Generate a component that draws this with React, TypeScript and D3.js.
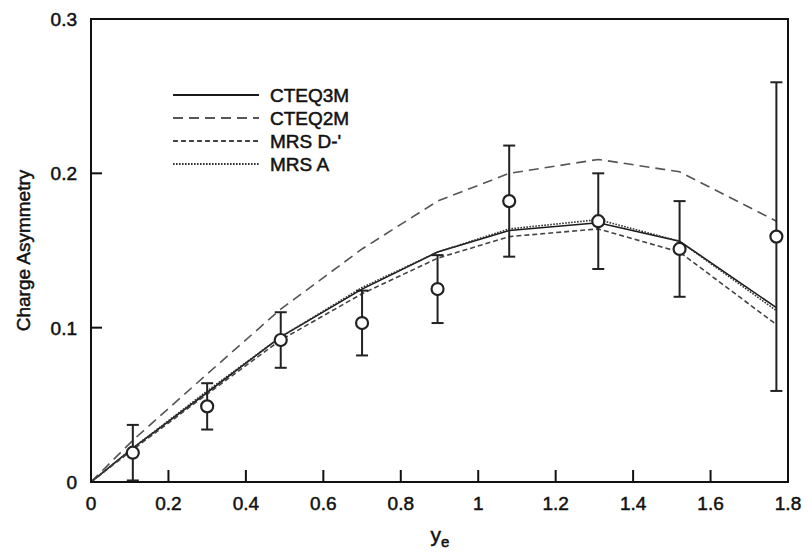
import React from "react";
import * as d3 from "d3";

const dataX = [0.108, 0.3, 0.49, 0.7, 0.895, 1.08, 1.31, 1.52, 1.77];
const dataY = [0.019, 0.049, 0.092, 0.103, 0.125, 0.182, 0.169, 0.151, 0.159];
const dataErr = [0.018, 0.015, 0.018, 0.021, 0.022, 0.036, 0.031, 0.031, 0.1];

const curveX = [0, 0.108, 0.3, 0.49, 0.7, 0.895, 1.08, 1.31, 1.52, 1.77];
const cteq3m = [0, 0.022, 0.058, 0.094, 0.125, 0.149, 0.163, 0.168, 0.156, 0.113];
const cteq2m = [0, 0.027, 0.07, 0.112, 0.151, 0.182, 0.2, 0.209, 0.201, 0.169];
const mrsD = [0, 0.021, 0.057, 0.092, 0.122, 0.145, 0.159, 0.164, 0.149, 0.102];
const mrsA = [0, 0.022, 0.059, 0.094, 0.126, 0.149, 0.164, 0.17, 0.156, 0.111];

const xTicks = [0, 0.2, 0.4, 0.6, 0.8, 1, 1.2, 1.4, 1.6, 1.8];
const yTicks = [0, 0.1, 0.2, 0.3];

const series = [
  { name: "CTEQ3M", values: cteq3m, dash: "", color: "#1a1a1a", width: 1.6 },
  { name: "CTEQ2M", values: cteq2m, dash: "10,6", color: "#555", width: 1.6 },
  { name: "MRS D-'", values: mrsD, dash: "5,3", color: "#444", width: 1.6 },
  { name: "MRS A", values: mrsA, dash: "1.6,1.4", color: "#333", width: 1.6 },
];

const W = 808;
const H = 552;
const left = 91;
const right = 788;
const top = 19;
const bottom = 482;
const font = "'Liberation Sans', Arial, sans-serif";
const textStyle = { stroke: "#111", strokeWidth: 0.5 };

export default function App() {
  const x = d3.scaleLinear().domain([0, 1.8]).range([left, right]);
  const y = d3.scaleLinear().domain([0, 0.3]).range([bottom, top]);
  const line = d3
    .line<number>()
    .x((_, i) => x(curveX[i]))
    .y((d) => y(d));
  const fmt = (v: number) => (v === 0 ? "0" : String(v));
  const legendY = [95, 118, 141, 164];

  return (
    <svg
      width={W}
      height={H}
      style={{ position: "absolute", left: 0, top: 0, background: "#fff" }}
      fontFamily={font}
    >
      <defs>
        <clipPath id="plot">
          <rect x={left} y={top} width={right - left} height={bottom - top} />
        </clipPath>
      </defs>
      <g clipPath="url(#plot)">
        {series.map((s) => (
          <path
            key={s.name}
            d={line(s.values) || ""}
            fill="none"
            stroke={s.color}
            strokeWidth={s.width}
            strokeDasharray={s.dash}
          />
        ))}
      </g>
      <g clipPath="url(#plot)">
        {dataX.map((xv, i) => {
          const cx = x(xv);
          const y1 = y(dataY[i] + dataErr[i]);
          const y0 = y(Math.max(0, dataY[i] - dataErr[i]));
          return (
            <g key={i} stroke="#222" strokeWidth={2}>
              <line x1={cx} x2={cx} y1={y1} y2={y0} />
              <line x1={cx - 6} x2={cx + 6} y1={y1} y2={y1} />
              <line x1={cx - 6} x2={cx + 6} y1={y0} y2={y0} />
              <circle cx={cx} cy={y(dataY[i])} r={6} fill="#fff" strokeWidth={2.2} />
            </g>
          );
        })}
      </g>
      <rect
        x={left}
        y={top}
        width={right - left}
        height={bottom - top}
        fill="none"
        stroke="#111"
        strokeWidth={2}
      />
      {xTicks.map((t) => (
        <g key={"x" + t}>
          {t > 0 && t < 1.8 && (
            <line x1={x(t)} x2={x(t)} y1={bottom} y2={bottom - 12} stroke="#111" strokeWidth={2} />
          )}
          <text x={x(t)} y={510} textAnchor="middle" fontSize={19} fill="#111" style={textStyle}>
            {fmt(t)}
          </text>
        </g>
      ))}
      {yTicks.map((t) => (
        <g key={"y" + t}>
          {t > 0 && t < 0.3 && (
            <line x1={left} x2={left + 11} y1={y(t)} y2={y(t)} stroke="#111" strokeWidth={2} />
          )}
          <text x={77} y={y(t) + 7} textAnchor="end" fontSize={19} fill="#111" style={textStyle}>
            {fmt(t)}
          </text>
        </g>
      ))}
      <text x={440} y={542} textAnchor="middle" fontSize={21} fill="#111" style={textStyle}>
        y
        <tspan fontSize={15} dy={5}>e</tspan>
      </text>
      <text
        transform={`translate(30, ${(top + bottom) / 2}) rotate(-90)`}
        textAnchor="middle"
        fontSize={19}
        fill="#111"
        style={textStyle}
      >
        Charge Asymmetry
      </text>
      {series.map((s, i) => (
        <g key={"leg" + s.name}>
          <line
            x1={173}
            x2={259}
            y1={legendY[i]}
            y2={legendY[i]}
            stroke={s.color}
            strokeWidth={1.8}
            strokeDasharray={s.dash}
          />
          <text x={270} y={legendY[i] + 7} fontSize={19} fill="#111" style={textStyle}>
            {s.name}
          </text>
        </g>
      ))}
    </svg>
  );
}
